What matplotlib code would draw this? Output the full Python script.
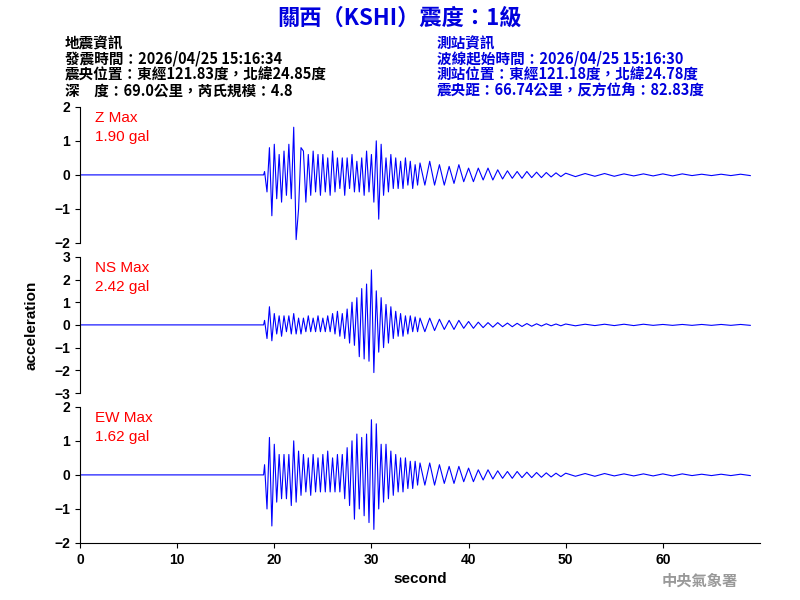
import numpy as np
import matplotlib
matplotlib.use("Agg")
import matplotlib.pyplot as plt

plt.rcParams['font.family'] = ['Noto Sans CJK TC', 'DejaVu Sans']

# signed peak amplitudes (gal): 19-35 s every 0.25 s, 35-50 s every 0.5 s, 50-70 s every 1 s
z_a = [0.1,-0.5,0.8,-1.2,0.9,-0.7,0.6,-0.8, 0.7,-0.6,0.9,-0.7,1.4,-1.9,-1.0,0.8,
       0.7,-0.8,0.6,-0.6,0.7,-0.5,0.6,-0.6, 0.6,-0.5,0.5,-0.6,0.7,-0.5,0.5,-0.4,
       0.5,-0.6,0.5,-0.4,0.6,-0.5,0.4,-0.5, 0.5,-0.6,0.7,-0.5,0.6,-0.8,1.0,-1.3,
       0.9,-0.6,0.5,-0.5,0.6,-0.4,0.5,-0.4, 0.4,-0.4,0.5,-0.3,0.4,-0.4,0.3,-0.3]
z_b = [0.35,-0.3,0.4,-0.3,0.3,-0.3,0.25,-0.25,0.3,-0.2,0.2,-0.2,0.2,-0.15,0.2,-0.15,
       0.15,-0.12,0.12,-0.1,0.1,-0.1,0.1,-0.08,0.08,-0.08,0.07,-0.06,0.06,-0.05]
z_c = [0.05,-0.05,0.04,-0.04,0.04,-0.04,0.03,-0.03,0.03,-0.03,0.03,-0.03,0.03,-0.02,0.02,-0.02,0.02,-0.02,0.02,-0.02]

ns_a = [0.2,-0.6,0.8,-0.7,0.5,-0.4,0.4,-0.5, 0.4,-0.3,0.4,-0.4,0.5,-0.4,0.3,-0.4,
        0.3,-0.3,0.4,-0.3,0.3,-0.3,0.4,-0.3, 0.3,-0.3,0.4,-0.3,0.5,-0.4,0.6,-0.5,
        0.5,-0.6,0.7,-0.8,1.0,-0.9,1.2,-1.4, 1.6,-1.5,1.8,-1.6,2.42,-2.1,1.5,-1.2,
        1.2,-1.0,0.9,-0.8,0.8,-0.6,0.6,-0.5, 0.5,-0.5,0.4,-0.4,0.4,-0.3,0.35,-0.3]
ns_b = [0.3,-0.3,0.3,-0.25,0.25,-0.2,0.2,-0.2,0.2,-0.15,0.15,-0.15,0.12,-0.12,0.1,-0.1,
        0.1,-0.08,0.08,-0.08,0.07,-0.07,0.06,-0.06,0.05,-0.05,0.05,-0.04,0.04,-0.04]
ns_c = [0.04,-0.04,0.03,-0.03,0.03,-0.03,0.03,-0.03,0.03,-0.02,0.02,-0.02,0.02,-0.02,0.02,-0.02,0.02,-0.02,0.02,-0.02]

ew_a = [0.3,-1.0,1.1,-1.5,0.9,-0.8,0.6,-0.7, 0.6,-0.7,0.6,-0.9,1.0,-0.8,0.7,-0.6,
        0.6,-0.5,0.5,-0.6,0.6,-0.5,0.5,-0.5, 0.6,-0.5,0.7,-0.5,0.5,-0.5,0.6,-0.5,
        0.6,-0.7,0.8,-0.9,1.0,-1.3,1.2,-1.0, 1.1,-1.2,1.2,-1.4,1.62,-1.6,1.5,-1.0,
        0.9,-0.8,0.9,-0.7,0.7,-0.6,0.6,-0.5, 0.5,-0.5,0.5,-0.4,0.4,-0.4,0.4,-0.3]
ew_b = [0.35,-0.3,0.35,-0.3,0.3,-0.25,0.25,-0.25,0.25,-0.2,0.2,-0.2,0.15,-0.15,0.15,-0.12,
        0.12,-0.1,0.1,-0.1,0.1,-0.08,0.08,-0.08,0.07,-0.07,0.06,-0.06,0.05,-0.05]
ew_c = [0.05,-0.04,0.04,-0.04,0.04,-0.03,0.03,-0.03,0.03,-0.03,0.03,-0.03,0.03,-0.02,0.02,-0.02,0.02,-0.02,0.02,-0.02]

channels = ["Z", "NS", "EW"]
max_labels = ["1.90 gal", "2.42 gal", "1.62 gal"]
ylims = [(-2, 2), (-3, 3), (-2, 2)]
series = [(z_a, z_b, z_c), (ns_a, ns_b, ns_c), (ew_a, ew_b, ew_c)]

t_a = 19 + 0.25 * np.arange(64)
t_b = 35 + 0.5 * np.arange(30)
t_c = 50 + 1.0 * np.arange(20)
t_all = np.concatenate([[0, 18.9], t_a, t_b, t_c])

LS = 'Liberation Sans'
fig = plt.figure(figsize=(8, 6), dpi=100)
bottoms = [0.595, 0.345, 0.095]
for i in range(3):
    ax = fig.add_axes([0.1, bottoms[i], 0.85, 0.227])
    a, b, c = series[i]
    y = np.concatenate([[0, 0], a, b, c])
    ax.plot(t_all, y, color='blue', lw=0.8)
    ax.set_xlim(0, 70)
    ax.set_ylim(*ylims[i])
    lo, hi = ylims[i]
    ax.set_yticks(range(lo, hi + 1))
    for s in ['top', 'right']:
        ax.spines[s].set_visible(False)
    if i < 2:
        ax.spines['bottom'].set_visible(False)
        ax.set_xticks([])
    else:
        ax.set_xticks(range(0, 70, 10))
        ax.set_xlabel("second", fontsize=11, fontweight='bold', family=LS)
    ax.tick_params(labelsize=10)
    for lab in ax.get_xticklabels() + ax.get_yticklabels():
        lab.set_family(LS)
        lab.set_fontweight('bold')
    ax.text(0.022, 0.92, channels[i] + " Max", transform=ax.transAxes, color='red',
            fontsize=11, va='center', family=LS)
    ax.text(0.022, 0.78, max_labels[i], transform=ax.transAxes, color='red',
            fontsize=11, va='center', family=LS)

fig.text(0.04, 1 - 325/600, "acceleration", rotation=90, ha='center', va='center',
         fontsize=11, fontweight='bold', family=LS)

fig.text(0.5, 1 - 18/600, "關西（KSHI）震度：1級", color='#0000dd', ha='center', va='center',
         fontsize=16, fontweight='bold')
left = ["地震資訊", "發震時間：2026/04/25 15:16:34", "震央位置：東經121.83度，北緯24.85度",
        "深　度：69.0公里，芮氏規模：4.8"]
right = ["測站資訊", "波線起始時間：2026/04/25 15:16:30", "測站位置：東經121.18度，北緯24.78度",
         "震央距：66.74公里，反方位角：82.83度"]
for k in range(4):
    yy = 1 - (43 + 16 * k) / 600
    fig.text(65/800, yy, left[k], color='black', fontsize=10.5, va='center', fontweight='bold')
    fig.text(437/800, yy, right[k], color='#0000dd', fontsize=10.5, va='center', fontweight='bold')
fig.text(700/800, 1 - 581/600, "中央氣象署", color='#999999', ha='center', va='center',
         fontsize=11, fontweight='bold')

fig.savefig("out.png", dpi=100)
